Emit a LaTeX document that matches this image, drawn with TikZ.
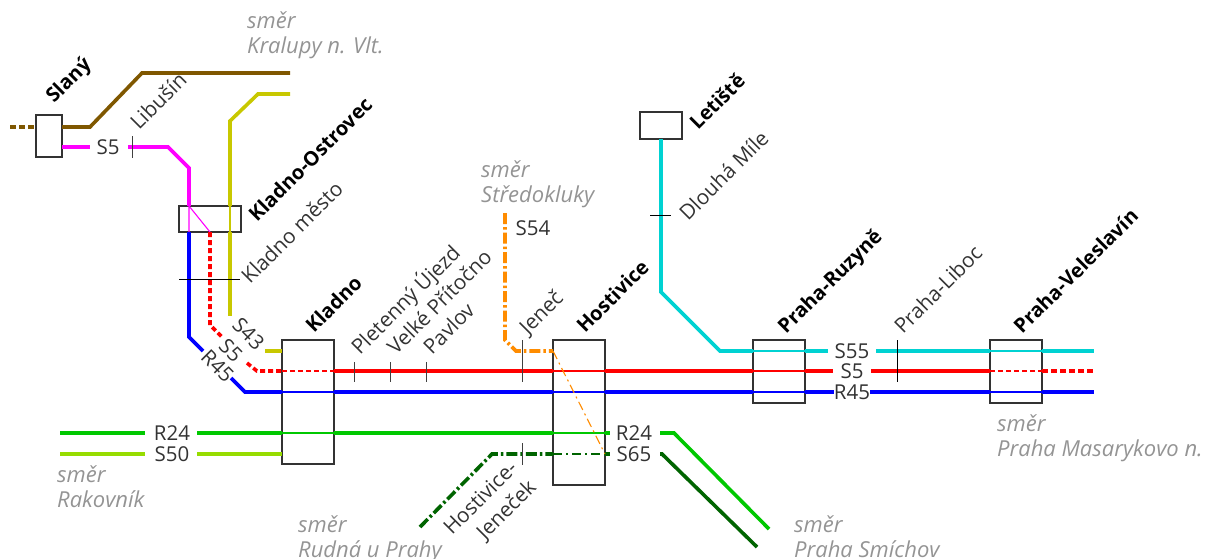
\documentclass[tikz,border=0pt]{standalone}
\usepackage{fontspec}
\setmainfont{Open Sans}
\begin{document}
\begin{tikzpicture}[x=1pt,y=-1pt,
  station/.style={draw=black!80,fill=white,line width=1.7pt,minimum width=0pt,inner sep=0pt,outer sep=0pt,anchor=north west},
  line/.style={line width=3.6pt,line join=miter},
  thin line/.style={line width=1.1pt},
  dashA/.style={dash pattern=on 6pt off 3pt},
  dashthin/.style={dash pattern=on 5pt off 3pt},
  dotdash/.style={dash pattern=on 11pt off 3pt on 2.5pt off 3pt},
  dotdashthin/.style={dash pattern=on 9pt off 4pt on 2pt off 4pt},
  tick/.style={draw=black!75,line width=1pt},
  stop/.style={font=\fontsize{20.7}{24}\selectfont,text=black!80,rotate=45,anchor=base west,inner sep=0pt},
  sta/.style={font=\fontsize{20}{24}\selectfont\bfseries,rotate=45,anchor=base west,inner sep=0pt},
  lab/.style={font=\fontsize{20.5}{24}\selectfont,text=black!80,inner sep=0pt,anchor=center},
  dir/.style={font=\fontsize{22}{25}\selectfont\itshape,text=black!42,inner sep=0pt,align=left,anchor=north west}]
\definecolor{cbrown}{HTML}{7F5700}
\definecolor{colive}{HTML}{C8C800}
\definecolor{cmag}{HTML}{FF00FF}
\definecolor{cred}{HTML}{FF0000}
\definecolor{cblue}{HTML}{0000FF}
\definecolor{cgreen}{HTML}{00C800}
\definecolor{clime}{HTML}{96DC00}
\definecolor{cdark}{HTML}{006400}
\definecolor{corange}{HTML}{FF8C00}
\definecolor{ccyan}{HTML}{00D2D2}
\useasboundingbox (0,0) rectangle (1207,558);
% levels
\coordinate (yC) at (0,351);
\coordinate (yR) at (0,371);
\coordinate (yB) at (0,392);
\coordinate (yG) at (0,433);
\coordinate (yD) at (0,454);
% stations
\node[station,minimum width=26pt,minimum height=42pt] (sl) at (36,115) {};
\node[station,minimum width=62pt,minimum height=26pt] (ko) at (179,206) {};
\node[station,minimum width=52pt,minimum height=124pt] (kl) at (282,340) {};
\node[station,minimum width=52pt,minimum height=145pt] (ho) at (553,340) {};
\node[station,minimum width=42pt,minimum height=27pt] (le) at (640,112) {};
\node[station,minimum width=52pt,minimum height=63pt] (ru) at (753,340) {};
\node[station,minimum width=52pt,minimum height=63pt] (ve) at (990,340) {};
% station names
\node[sta] (nsl) at (54,104) {Slaný};
\node[sta] (nko) at (257,223) {Kladno-Ostrovec};
\node[sta] (nkl) at (314,334) {Kladno};
\node[sta] (nho) at (585,334) {Hostivice};
\node[sta] (nle) at (698,131) {Letiště};
\node[sta] (nru) at (786,335) {Praha-Ruzyně};
\node[sta] (nve) at (1022,335) {Praha-Veleslavín};
% stops
\node[stop] (slib) at (139,131) {Libušín};
\node[stop] (skm) at (250,285) {Kladno město};
\node[stop] (spu) at (360,356) {Pletenný Újezd};
\node[stop] (svp) at (396,356) {Velké Přítočno};
\node[stop] (spa) at (432,356) {Pavlov};
\node[stop] (sje) at (528,336) {Jeneč};
\node[stop] (shj) at (452,536) {Hostivice-};
\node[stop] (shk) at (485,541) {Jeneček};
\node[stop] (sdm) at (688,222) {Dlouhá Míle};
\node[stop] (spl) at (903,335) {Praha-Liboc};
% directions
\node[dir] (d1) at (247,11) {směr\\Kralupy n. Vlt.};
\node[dir] (d2) at (481,160) {směr\\Středokluky};
\node[dir] (d3) at (997,414) {směr\\Praha Masarykovo n.};
\node[dir] (d4) at (57,465) {směr\\Rakovník};
\node[dir] (d5) at (298,515) {směr\\Rudná u Prahy};
\node[dir] (d6) at (794,515) {směr\\Praha Smíchov};
% line labels
\node[lab] (l1) at (108,147) {S5};
\node[lab] (l2) at (533,228) {S54};
\node[lab,rotate=-45] (l3) at (217.5,366) {R45};
\node[lab,rotate=-45] (l4) at (231,350) {S5};
\node[lab,rotate=-45] (l5) at (248.5,334) {S43};
\node[lab,outer sep=7pt] (l6) at (852,351) {S55};
\node[lab] (l7) at (852,371) {S5};
\node[lab,outer sep=0pt] (l8) at (852,392) {R45};
\node[lab] (l9) at (172,433) {R24};
\node[lab] (l10) at (172,454) {S50};
\node[lab] (l11) at (634,433) {R24};
\node[lab] (l12) at (634,454) {S65};
% free ends
\coordinate (e1) at (10,127);
\coordinate (e2) at (290,73);
\coordinate (e3) at (290,94);
\coordinate (e4) at (1094,351);
\coordinate (e5) at (1094,371);
\coordinate (e6) at (1094,392);
\coordinate (e7) at (60,433);
\coordinate (e8) at (60,454);
\coordinate (e9) at (420,527);
\coordinate (e10) at (505,213);
\coordinate (e11) at (769,529);
\coordinate (e12) at (757,547);
\coordinate (s1) at (189,206);
\coordinate (s2) at (189,232);
\coordinate (s3) at (210,232);
\coordinate (s4) at (230,206);
\coordinate (s5) at (230,232);
% brown
\draw[cbrown,line,dashA] (e1) -- (sl.west|-0,127);
\draw[cbrown,line] (sl.east|-0,127) -- (90,127) -- (142,73) -- (e2);
% magenta
\draw[cmag,line] (sl.east|-0,147) -- (90,147);
\draw[cmag,line] (128,147) -- (168,147) -- (189,168) -- (s1);
\draw[cmag,thin line] (s1) -- (s2) (s1) -- (s3);
% olive
\draw[colive,line] (e3) -- (258,94) -- (230,121) -- (s4);
\draw[colive,thin line] (s4) -- (s5);
\draw[colive,line] (s5) -- (230,316);
\draw[colive,line] (265,351) -- (kl.west|-yC);
% blue
\draw[cblue,line] (s2) -- (189,337) -- (203,351);
\draw[cblue,line] (231,378) -- (245,392) -- (kl.west|-yB);
\draw[cblue,thin line] (kl.west|-yB) -- (kl.east|-yB);
\draw[cblue,line] (kl.east|-yB) -- (ho.west|-yB);
\draw[cblue,thin line] (ho.west|-yB) -- (ho.east|-yB);
\draw[cblue,line] (ho.east|-yB) -- (ru.west|-yB);
\draw[cblue,thin line] (ru.west|-yB) -- (ru.east|-yB);
\draw[cblue,line] (ru.east|-yB) -- (l8.west);
\draw[cblue,line] (l8.east) -- (ve.west|-yB);
\draw[cblue,thin line] (ve.west|-yB) -- (ve.east|-yB);
\draw[cblue,line] (ve.east|-yB) -- (e6);
% red
\draw[cred,line,dash pattern=on 5pt off 3pt] (s3) -- (210,325) -- (220,335) -- (222,337);
\draw[cred,line,dash pattern=on 5pt off 3pt] (247,363) -- (257,371) -- (kl.west|-yR);
\draw[cred,thin line,dashthin] (kl.west|-yR) -- (kl.east|-yR);
\draw[cred,line] (kl.east|-yR) -- (ho.west|-yR);
\draw[cred,thin line] (ho.west|-yR) -- (ho.east|-yR);
\draw[cred,line] (ho.east|-yR) -- (ru.west|-yR);
\draw[cred,thin line] (ru.west|-yR) -- (ru.east|-yR);
\draw[cred,line] (ru.east|-yR) -- (833,371);
\draw[cred,line] (871,371) -- (ve.west|-yR);
\draw[cred,thin line,dashthin] (ve.west|-yR) -- (ve.east|-yR);
\draw[cred,line,dash pattern=on 6pt off 3pt] (ve.east|-yR) -- (e5);
% green
\draw[cgreen,line] (e7) -- (145,433);
\draw[cgreen,line] (197,433) -- (kl.west|-yG);
\draw[cgreen,thin line] (kl.west|-yG) -- (kl.east|-yG);
\draw[cgreen,line] (kl.east|-yG) -- (ho.west|-yG);
\draw[cgreen,thin line] (ho.west|-yG) -- (ho.east|-yG);
\draw[cgreen,line] (ho.east|-yG) -- (610,433);
\draw[cgreen,line] (660,433) -- (674,433) -- (e11);
% lime
\draw[clime,line] (e8) -- (145,454);
\draw[clime,line] (197,454) -- (kl.west|-yD);
% dark green
\draw[cdark,line,dotdash] (e9) -- (492,454) -- (ho.west|-yD);
\draw[cdark,thin line,dotdashthin] (ho.west|-yD) -- (ho.east|-yD);
\draw[cdark,line] (ho.east|-yD) -- (610,454);
\draw[cdark,line] (660,454) -- (662,454) -- (e12);
% orange
\draw[corange,line,dotdash] (e10) -- (505,340) -- (516,351) -- (ho.west|-yC);
\draw[corange,thin line,dotdashthin] (ho.west|-yC) -- (ho.east|-yD);
% cyan
\draw[ccyan,line] (le.south) -- (661,292) -- (720,351) -- (ru.west|-yC);
\draw[ccyan,thin line] (ru.west|-yC) -- (ru.east|-yC);
\draw[ccyan,line] (ru.east|-yC) -- (l6.west);
\draw[ccyan,line] (l6.east) -- (ve.west|-yC);
\draw[ccyan,thin line] (ve.west|-yC) -- (ve.east|-yC);
\draw[ccyan,line] (ve.east|-yC) -- (e4);
% ticks
\draw[tick] (132,136) -- (132,158);
\draw[tick,black] (179,279) -- (240,279);
\draw[tick] (354,362) -- (354,382);
\draw[tick] (390,362) -- (390,382);
\draw[tick] (426,362) -- (426,382);
\draw[tick] (522,340) -- (522,382);
\draw[tick] (522,443) -- (522,465);
\draw[tick,black] (650,215) -- (671,215);
\draw[tick,black] (897,340) -- (897,382);
\end{tikzpicture}
\end{document}
